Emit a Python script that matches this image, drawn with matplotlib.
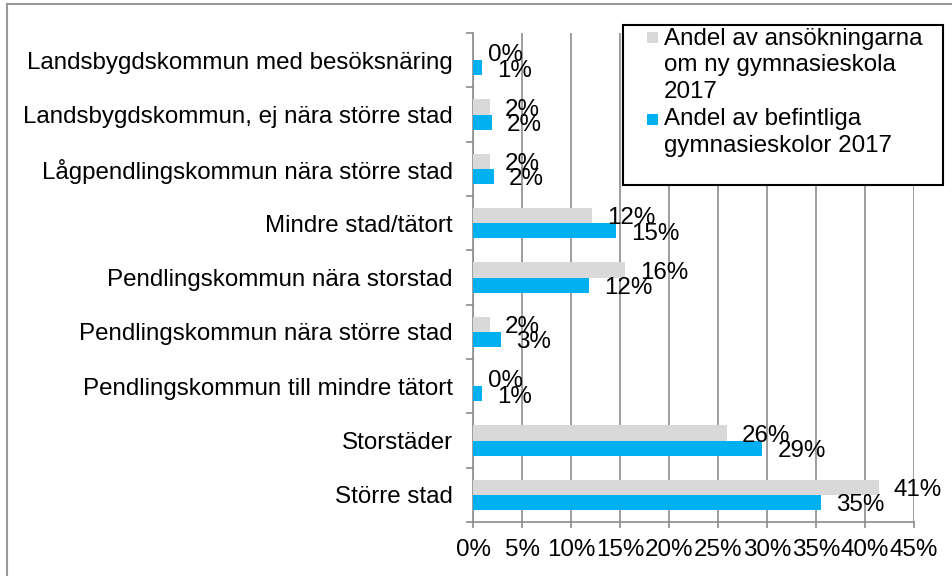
import numpy as np
import matplotlib
matplotlib.use("Agg")
import matplotlib.pyplot as plt
from matplotlib.patches import Rectangle
from matplotlib.lines import Line2D

categories = [
    "Landsbygdskommun med besöksnäring",
    "Landsbygdskommun, ej nära större stad",
    "Lågpendlingskommun nära större stad",
    "Mindre stad/tätort",
    "Pendlingskommun nära storstad",
    "Pendlingskommun nära större stad",
    "Pendlingskommun till mindre tätort",
    "Storstäder",
    "Större stad",
]
ansokningar = [0.0, 1.7, 1.7, 12.1, 15.5, 1.7, 0.0, 25.9, 41.4]
befintliga = [0.9, 1.9, 2.1, 14.6, 11.8, 2.8, 0.9, 29.5, 35.5]
label_ans = ["0%", "2%", "2%", "12%", "16%", "2%", "0%", "26%", "41%"]
label_bef = ["1%", "2%", "2%", "15%", "12%", "3%", "1%", "29%", "35%"]
xticks = np.arange(0, 50, 5)

GREY = "#d9d9d9"
BLUE = "#00b0f0"
GRID = "#8c8c8c"
FS = 17.4

plt.rcParams.update({
    "font.family": ["Liberation Sans", "DejaVu Sans"],
    "font.size": FS,
})

W, H = 953, 576
fig = plt.figure(figsize=(W / 100, H / 100), dpi=100)
ax = fig.add_axes([473.5 / W, 1 - 522 / H, (914 - 473.5) / W, (522 - 33) / H])

y = np.arange(len(categories))
bh = 0.28
ax.barh(y - bh / 2, ansokningar, height=bh, color=GREY, zorder=3)
ax.barh(y + bh / 2, befintliga, height=bh, color=BLUE, zorder=3)

# data labels, offset right of bar end
for i in range(len(categories)):
    ax.annotate(label_ans[i], (ansokningar[i], y[i] - bh / 2), xytext=(10.8, -2),
                textcoords="offset points", va="center", ha="left", fontsize=FS, zorder=5)
    ax.annotate(label_bef[i], (befintliga[i], y[i] + bh / 2), xytext=(10.8, -2),
                textcoords="offset points", va="center", ha="left", fontsize=FS, zorder=5)

ax.set_xlim(0, 45)
ax.set_ylim(len(categories) - 0.5, -0.5)
ax.set_xticks(xticks)
ax.set_xticklabels([f"{t}%" for t in xticks])
ax.set_yticks(np.arange(-0.5, len(categories), 1), minor=False)
ax.set_yticklabels([])
ax.set_yticks(y, minor=True)
ax.set_yticklabels(categories, minor=True)
ax.tick_params(axis="y", which="major", length=5, width=1.2, color=GRID, direction="out")
ax.tick_params(axis="y", which="minor", length=0, pad=15)
ax.tick_params(axis="x", length=4, width=1.2, color=GRID, pad=8)

ax.grid(axis="x", color=GRID, linewidth=1.2, zorder=0)
for s in ["top", "right"]:
    ax.spines[s].set_visible(False)
for s in ["left", "bottom"]:
    ax.spines[s].set_color(GRID)
    ax.spines[s].set_linewidth(1.2)

# chart frame
fig.add_artist(Line2D([7 / W, 7 / W], [0, 1 - 4 / H], color="#999999", lw=1.5,
                      transform=fig.transFigure))
fig.add_artist(Line2D([7 / W, 1], [1 - 4 / H, 1 - 4 / H], color="#999999", lw=1.5,
                      transform=fig.transFigure))

# legend box
fig.add_artist(Rectangle((623 / W, 1 - 185 / H), (943 - 623) / W, (185 - 25) / H,
                         facecolor="white", edgecolor="black", lw=1.5,
                         transform=fig.transFigure, zorder=10))
fig.add_artist(Rectangle((647 / W, 1 - 43 / H), 11 / W, 11 / H, facecolor=GREY,
                         edgecolor="none", transform=fig.transFigure, zorder=11))
fig.add_artist(Rectangle((647 / W, 1 - 125 / H), 11 / W, 11 / H, facecolor=BLUE,
                         edgecolor="none", transform=fig.transFigure, zorder=11))
leg_lines = [("Andel av ansökningarna", 38.5), ("om ny gymnasieskola", 65),
             ("2017", 91.5), ("Andel av befintliga", 119.5), ("gymnasieskolor 2017", 145.5)]
for txt, yy in leg_lines:
    fig.text(664 / W, 1 - yy / H, txt, ha="left", va="center", fontsize=FS, zorder=12)

fig.savefig("out.png", dpi=100)
